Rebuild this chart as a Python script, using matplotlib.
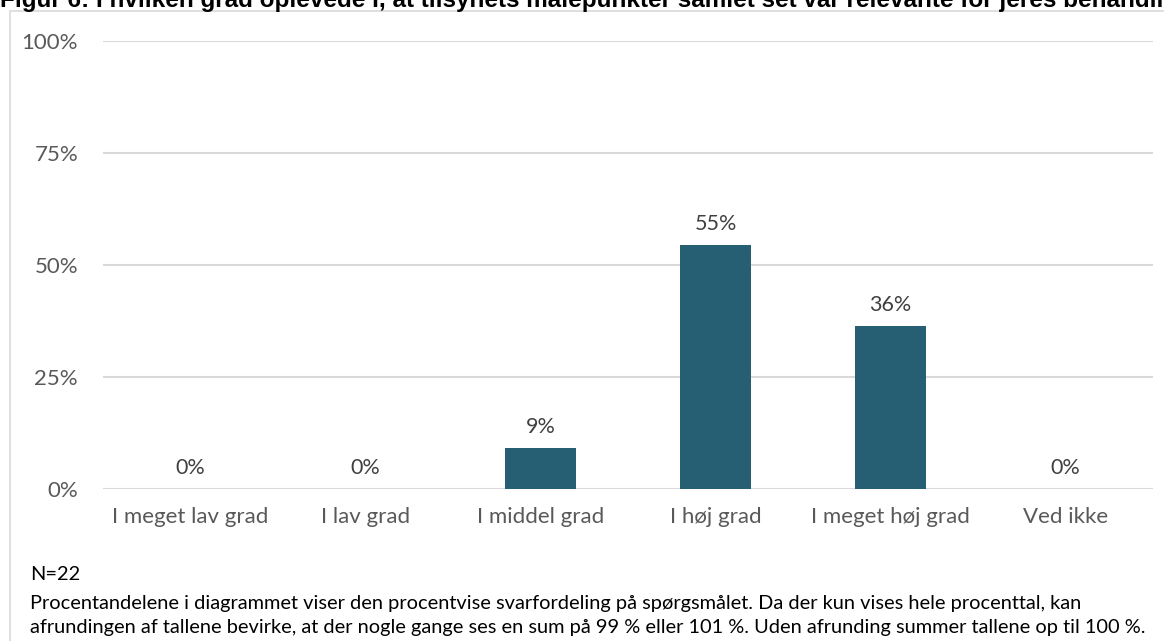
import matplotlib.pyplot as plt
from matplotlib.patches import Rectangle

categories = ["I meget lav grad", "I lav grad", "I middel grad", "I høj grad", "I meget høj grad", "Ved ikke"]
values = [0, 0, 9.1, 54.5, 36.4, 0]
labels = ["0%", "0%", "9%", "55%", "36%", "0%"]
yticks = [0, 25, 50, 75, 100]

title = "Figur 6: I hvilken grad oplevede I, at tilsynets målepunkter samlet set var relevante for jeres behandling?"
note_lines = [
    "N=22",
    "Procentandelene i diagrammet viser den procentvise svarfordeling på spørgsmålet. Da der kun vises hele procenttal, kan",
    "afrundingen af tallene bevirke, at der nogle gange ses en sum på 99 % eller 101 %. Uden afrunding summer tallene op til 100 %.",
]

W, H = 1164, 641
fig = plt.figure(figsize=(W / 100, H / 100), dpi=100)
plt.rcParams['font.family'] = ['Lato', 'DejaVu Sans']

# light border of the chart box
fig.patches.append(Rectangle((10 / W, -0.1), 1.2, 1 - 11 / H + 0.1, transform=fig.transFigure,
                             fill=False, edgecolor="#D9D9D9", linewidth=1.2))

ax = fig.add_axes([103 / W, 1 - 489 / H, 1050 / W, 448 / H])
x = range(len(categories))
ax.bar(x, values, width=0.405, color="#265F73", zorder=3)
for xi, v, lab in zip(x, values, labels):
    ax.annotate(lab, (xi, v), xytext=(0, 8), textcoords="offset points",
                ha="center", va="bottom", fontsize=15.5, color="#404040")

ax.set_xlim(-0.5, len(categories) - 0.5)
ax.set_ylim(0, 100)
ax.set_yticks(yticks)
ax.set_yticklabels([f"{t}%" for t in yticks])
ax.set_xticks(list(x))
ax.set_xticklabels(categories)
ax.tick_params(axis="both", length=0, labelsize=16, labelcolor="#595959")
ax.tick_params(axis="y", pad=18)
ax.tick_params(axis="x", pad=13)
ax.grid(axis="y", color="#D9D9D9", linewidth=1.5, zorder=0)
for s in ax.spines.values():
    s.set_visible(False)

# title is cut off at the top/right edge, as in the source image
fig.text(0, 1 - 6.5 / H, title, fontsize=17.5, fontweight="bold", family="Liberation Sans",
         color="black", ha="left", va="baseline")
for i, line in enumerate(note_lines):
    fig.text(30 / W, 1 - (580 + 29 * min(i, 1) + 24 * max(i - 1, 0)) / H, line,
             fontsize=14.4, color="black", ha="left", va="baseline")

fig.savefig("out.png", dpi=100)
